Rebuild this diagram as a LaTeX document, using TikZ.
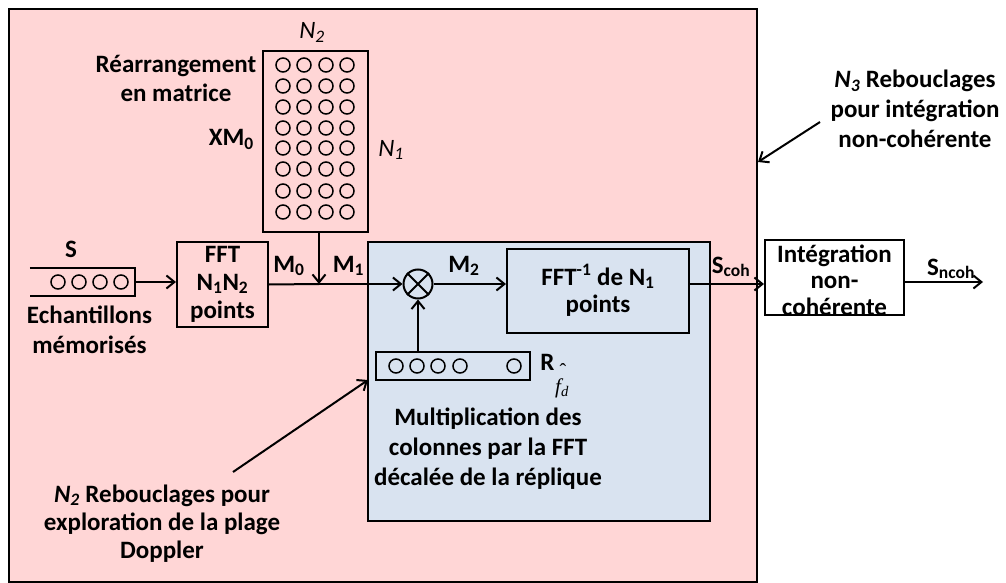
\documentclass[tikz,border=0pt]{standalone}
\usepackage{fontspec}
\setmainfont{Carlito}
\newfontfamily\serifit{Liberation Serif}
\usetikzlibrary{arrows.meta}
\definecolor{pinkbg}{RGB}{255,214,214}
\definecolor{bluebg}{RGB}{217,227,240}
\begin{document}
\begin{tikzpicture}[x=1pt,y=-1pt,
  lbl/.style={font=\fontsize{25}{29.5}\selectfont\bfseries, inner sep=0pt, anchor=base, align=center},
  ital/.style={font=\fontsize{25}{29.5}\selectfont\itshape, inner sep=0pt, anchor=base},
  box/.style={draw, line width=2pt, inner sep=0pt, rectangle},
  dot/.style={draw, circle, line width=1.5pt, minimum size=14pt, inner sep=0pt},
  conn/.style={line width=2pt, -{Straight Barb[length=8pt,width=13pt,line width=2pt]}},
]
\useasboundingbox (0,0) rectangle (1006,583);

% background regions
\node[box, fill=pinkbg, line width=2.5pt, minimum width=748pt, minimum height=573pt] (outer) at (383,295.5) {};
\node[box, fill=bluebg, line width=2.5pt, minimum width=342pt, minimum height=279pt] (blue) at (539,381.5) {};

% matrix
\node[box, minimum width=105pt, minimum height=181pt] (mat) at (315.5,141.5) {};
\foreach \r/\y in {1/65,2/86,3/107,4/128,5/148,6/169,7/191,8/212}{
  \foreach \c/\x in {1/283,2/304,3/326,4/347}{
    \node[dot] (m\r\c) at (\x,\y) {};
  }
}
\node[lbl] (retxt) at (176,102) {Réarrangement\\en matrice};
\node[ital] (n2top) at (312,39) {N\textsubscript{2}};
\node[lbl, anchor=base east] (xm0) at (254,146) {XM\textsubscript{0}};
\node[ital] (n1) at (391,156) {N\textsubscript{1}};

% sample store
\node[inner sep=0pt, minimum width=105pt, minimum height=28pt] (store) at (82.5,282) {};
\draw[line width=2pt] (store.north west) -- (store.north east) -- (store.south east) -- (store.south west);
\foreach \i/\x in {1/58,2/79,3/100,4/121}{ \node[dot] (s\i) at (\x,282) {}; }
\node[lbl] (stxt) at (71,257) {S};
\node[lbl] (echtxt) at (89.5,353) {Echantillons\\mémorisés};

% FFT box
\node[box, minimum width=91pt, minimum height=85pt] (fft) at (222.5,284.5) {};
\node[lbl, font=\fontsize{25}{28}\selectfont\bfseries] (ffttxt) at (222.5,318) {FFT\\N\textsubscript{1}N\textsubscript{2}\\points};

% multiplier
\node[draw, circle, line width=2pt, minimum size=29pt, inner sep=0pt] (mult) at (418,284) {};
\draw[line width=2pt] (mult.north west) -- (mult.south east) (mult.north east) -- (mult.south west);

% FFT inverse
\node[box, minimum width=182pt, minimum height=84pt] (ffti) at (598,291) {};
\node[lbl, font=\fontsize{25}{27}\selectfont\bfseries] (fftitxt) at (598,312) {FFT\textsuperscript{-1} de N\textsubscript{1}\\points};

% replica vector
\node[box, minimum width=154pt, minimum height=28pt] (rvec) at (453,366) {};
\foreach \i/\x in {1/396,2/417,3/438,4/460,5/514}{ \node[dot] (r\i) at (\x,366) {}; }
\node[lbl] (rtxt) at (547.5,370) {R};
\node[inner sep=0pt, anchor=base, font=\fontsize{20}{24}\selectfont\serifit] (hat) at (563,377) {ˆ};
\node[inner sep=0pt, anchor=base west, font=\fontsize{21}{24}\selectfont\serifit\itshape] (fd) at (555,393) {f\textsubscript{d}};

\node[lbl, font=\fontsize{25}{30}\selectfont\bfseries] (multtxt) at (488,485) {Multiplication des\\colonnes par la FFT\\décalée de la réplique};

% non-coherent integration
\node[box, minimum width=139pt, minimum height=75pt] (integ) at (834.5,277.5) {};
\node[lbl, font=\fontsize{25}{26.5}\selectfont\bfseries] (integtxt) at (834.5,315) {Intégration\\non-\\cohérente};

% signal labels
\node[lbl] (m0) at (289,272) {M\textsubscript{0}};
\node[lbl] (m1) at (348.5,272) {M\textsubscript{1}};
\node[lbl] (m2) at (464,272) {M\textsubscript{2}};
\node[lbl] (scoh) at (731,273) {S\textsubscript{coh}};
\node[lbl] (sncoh) at (951,275) {S\textsubscript{ncoh}};

% annotations
\node[lbl] (n3txt) at (915,147) {\textit{N\textsubscript{3}} Rebouclages\\pour intégration\\non-cohérente};
\node[lbl, font=\fontsize{25}{28}\selectfont\bfseries] (n2txt) at (162,558) {\textit{N\textsubscript{2}} Rebouclages pour\\exploration de la plage\\Doppler};

% connectors
\coordinate (j) at (319,284);
\coordinate (outend) at (983,282);
\coordinate (n3start) at (820,122);
\coordinate (n3end) at (758,162);
\coordinate (n2start) at (233,472);
\coordinate (n2end) at (368,380);

\draw[conn] (store.east) -- (store.east -| fft.west);
\draw[line width=2pt] (fft.east) -- (j);
\draw[conn] (j) -- (mult.west);
\draw[conn] (mat.south -| j) -- (j);
\draw[conn] (mult.east) -- (mult.east -| ffti.west);
\draw[conn] (rvec.north -| mult.south) -- (mult.south);
\draw[conn] (ffti.east |- mult.east) -- (integ.west |- mult.east);
\draw[conn] (integ.east |- outend) -- (outend);
\draw[conn] (n3start) -- (n3end);
\draw[conn] (n2start) -- (n2end);
\end{tikzpicture}
\end{document}
